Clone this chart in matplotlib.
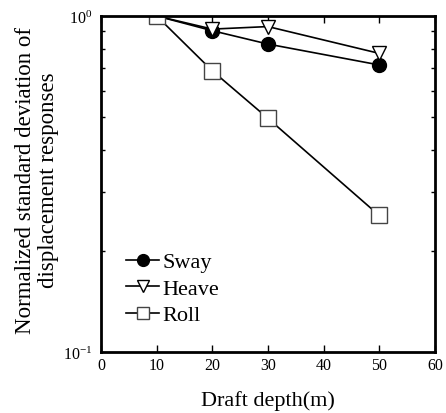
import matplotlib
matplotlib.use('Agg')
import matplotlib.pyplot as plt
from matplotlib.ticker import LogLocator, FixedLocator, NullFormatter

plt.rcParams['font.family'] = ['Liberation Serif', 'DejaVu Serif']
plt.rcParams['mathtext.fontset'] = 'custom'
plt.rcParams['mathtext.rm'] = 'Liberation Serif'
plt.rcParams['mathtext.it'] = 'Liberation Serif:italic'

draft = [10, 20, 30, 50]
sway = [1.0, 0.904, 0.825, 0.715]
heave = [1.0, 0.914, 0.93, 0.774]
roll = [1.0, 0.687, 0.496, 0.255]

fig = plt.figure(figsize=(4.46, 4.14), dpi=100)
ax = fig.add_axes([0.2265, 0.147, 0.7485, 0.812])

ax.plot(draft, sway, '-o', color='black', mfc='black', ms=10, lw=1.2, label='Sway')
ax.plot(draft, heave, '-v', color='black', mfc='white', ms=10, lw=1.2, label='Heave')
ax.plot(draft, roll, '-s', color='black', mfc='white', mec='#444444', ms=11, lw=1.2, label='Roll')

ax.set_yscale('log')
ax.set_xlim(0, 60)
ax.set_ylim(0.1, 1.0)
ax.set_xticks([0, 10, 20, 30, 40, 50, 60])
ax.yaxis.set_major_locator(FixedLocator([0.1, 1.0]))
ax.set_yticklabels([r'$10^{-1}$', r'$10^{0}$'])
ax.yaxis.set_minor_locator(LogLocator(base=10, subs=range(2, 10)))
ax.yaxis.set_minor_formatter(NullFormatter())

ax.tick_params(which='both', direction='in', top=True, right=True, labelsize=11.5)
ax.tick_params(which='major', length=5, width=1)
ax.tick_params(which='minor', length=3, width=1)
ax.tick_params(axis='y', which='major', length=0, pad=6)
for s in ax.spines.values():
    s.set_linewidth(2)

ax.set_xlabel('Draft depth(m)', fontsize=16, labelpad=12)
ax.set_ylabel('Normalized standard deviation of\ndisplacement responses', fontsize=16.5,
              linespacing=1.15)
ax.yaxis.set_label_coords(-0.125, 0.515)

ax.legend(loc='lower left', bbox_to_anchor=(0.015, 0.02), frameon=False, fontsize=16,
          handlelength=1.5, handletextpad=0.15, labelspacing=0.27, borderaxespad=0.5,
          markerscale=0.85)

fig.savefig('out.png', dpi=100)
